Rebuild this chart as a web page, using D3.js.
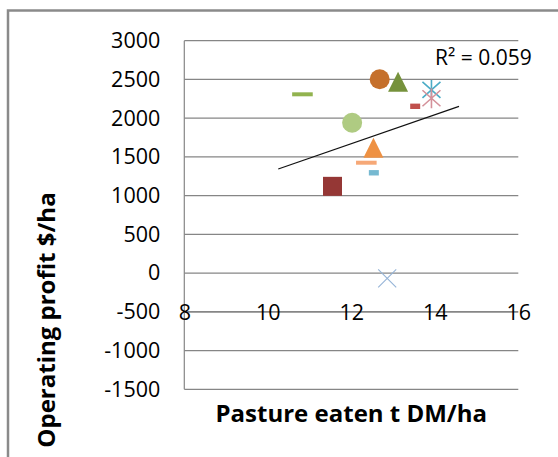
<!DOCTYPE html>
<html>
<head>
<meta charset="utf-8">
<script src="https://cdn.jsdelivr.net/npm/d3@7"></script>
<style>
  body { margin: 0; background: #fff; }
  text { font-family: 'Open Sans', 'Noto Sans', sans-serif; fill: #000; }
</style>
</head>
<body>
<svg id="canvas" width="558" height="457"></svg>
<script>
// farms: pasture eaten (t DM/ha) vs operating profit ($/ha)
let pastureEaten = [10.83, 12.68, 13.12, 13.92, 13.92, 13.53, 12.02, 12.53, 12.36, 12.54, 11.55, 12.86]
let operatingProfit = [2308, 2502, 2471, 2364, 2257, 2153, 1941, 1617, 1425, 1295, 1120, -67]

// marker styles, one per farm
let markerShapes = ['dash', 'circle', 'triangle', 'star', 'star', 'shortdash', 'circle', 'triangle', 'dash', 'shortdash', 'square', 'x']
let markerColors = ['#92b34f', '#c5702c', '#76923c', '#4bacc6', '#d4919a', '#c0504d', '#afcb82', '#ee9143', '#f6a877', '#76b9d1', '#953735', '#95b3d7']

// linear trendline as drawn on the chart
let trendX = [10.25, 14.58]
let trendY = [1344, 2152]
let rSquared = '0.059'

let xTicks = [8, 10, 12, 14, 16]
let yTicks = [-1500, -1000, -500, 0, 500, 1000, 1500, 2000, 2500, 3000]

let canvas = d3.select('#canvas')

let xScale = d3.scaleLinear().domain([8, 16]).range([184.3, 518.3])
let yScale = d3.scaleLinear().domain([-1500, 3000]).range([389.3, 40.7])

// plain numbers, ascii minus, no thousands separator
let plainNumber = (d) => String(d)

// outer chart frame (runs off the right and bottom edge)
canvas.append('rect')
  .attr('x', 8)
  .attr('y', 10.5)
  .attr('width', 600)
  .attr('height', 500)
  .attr('fill', 'none')
  .attr('stroke', '#8a8a8a')
  .attr('stroke-width', 2.5)

// gridlines
canvas.append('g')
  .selectAll('line')
  .data(yTicks)
  .enter()
  .append('line')
  .attr('x1', xScale(8))
  .attr('x2', xScale(16))
  .attr('y1', (d) => yScale(d))
  .attr('y2', (d) => yScale(d))
  .attr('stroke', '#868686')
  .attr('stroke-width', (d) => d === -500 ? 1.6 : 1.2)

// vertical axis line
canvas.append('line')
  .attr('x1', xScale(8))
  .attr('x2', xScale(8))
  .attr('y1', yScale(3000))
  .attr('y2', yScale(-1500))
  .attr('stroke', '#868686')
  .attr('stroke-width', 1.2)

// y tick labels
let yAxis = d3.axisLeft(yScale).tickValues(yTicks).tickFormat(plainNumber).tickSize(0).tickPadding(24)
let yAxisG = canvas.append('g')
  .attr('transform', 'translate(' + xScale(8) + ',0)')
  .call(yAxis)
yAxisG.select('.domain').remove()
yAxisG.selectAll('text')
  .style('font-family', "'Open Sans', sans-serif")
  .style('font-size', '21.5px')
  .attr('fill', '#000')

// x tick labels sit on the -500 line
let xAxis = d3.axisBottom(xScale).tickValues(xTicks).tickFormat(plainNumber).tickSize(0).tickPadding(0)
let xAxisG = canvas.append('g')
  .attr('transform', 'translate(0,' + yScale(-500) + ')')
  .call(xAxis)
xAxisG.select('.domain').remove()
xAxisG.selectAll('text')
  .attr('y', 0)
  .attr('dy', '0.36em')
  .style('font-family', "'Open Sans', sans-serif")
  .style('font-size', '21.5px')
  .attr('fill', '#000')

// trendline
canvas.append('line')
  .attr('x1', xScale(trendX[0]))
  .attr('y1', yScale(trendY[0]))
  .attr('x2', xScale(trendX[1]))
  .attr('y2', yScale(trendY[1]))
  .attr('stroke', '#111')
  .attr('stroke-width', 1.2)

// marker path for each shape
let markerPath = (shape) => {
  if (shape === 'circle') {
    return d3.symbol(d3.symbolCircle, Math.PI * 100)()
  } else if (shape === 'triangle') {
    return 'M0,-10L10,10L-10,10Z'
  } else if (shape === 'square') {
    return 'M-9.5,-9.5H9.5V9.5H-9.5Z'
  } else if (shape === 'dash') {
    return 'M-10.3,-2H10.3V2H-10.3Z'
  } else if (shape === 'shortdash') {
    return 'M-5,-2.7H5V2.7H-5Z'
  } else if (shape === 'star') {
    return 'M-9,-8L9,8M-9,8L9,-8M0,-10V10'
  } else {
    return 'M-9,-9L9,9M-9,9L9,-9'
  }
}

let points = pastureEaten.map((x, i) => {
  return { x: x, y: operatingProfit[i], shape: markerShapes[i], color: markerColors[i] }
})

canvas.append('g')
  .selectAll('path')
  .data(points)
  .enter()
  .append('path')
  .attr('transform', (d) => 'translate(' + xScale(d.x) + ',' + yScale(d.y) + ')')
  .attr('d', (d) => markerPath(d.shape))
  .attr('fill', (d) => (d.shape === 'star' || d.shape === 'x') ? 'none' : d.color)
  .attr('stroke', (d) => (d.shape === 'star' || d.shape === 'x') ? d.color : 'none')
  .attr('stroke-width', (d) => d.shape === 'star' ? 1.6 : 1.1)

// R squared label
canvas.append('text')
  .attr('x', 435)
  .attr('y', 65)
  .style('font-size', '21px')
  .text('R² = ' + rSquared)

// axis titles
canvas.append('text')
  .attr('x', (xScale(8) + xScale(16)) / 2)
  .attr('y', 422)
  .attr('text-anchor', 'middle')
  .style('font-size', '24px')
  .style('font-weight', 'bold')
  .text('Pasture eaten t DM/ha')

canvas.append('text')
  .attr('transform', 'translate(55,320) rotate(-90)')
  .attr('text-anchor', 'middle')
  .style('font-size', '24px')
  .style('font-weight', 'bold')
  .text('Operating profit $/ha')
</script>
</body>
</html>
